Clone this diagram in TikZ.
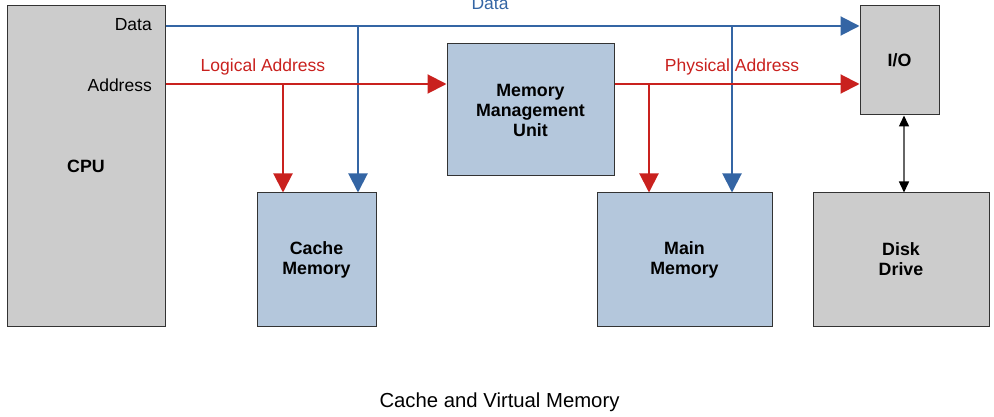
\documentclass[tikz,border=0pt]{standalone}
\usepackage{fontspec}
\setmainfont{Liberation Sans}
\usetikzlibrary{arrows.meta}
\definecolor{dblue}{HTML}{3465A4}
\definecolor{dred}{HTML}{C9211E}
\definecolor{bfill}{HTML}{B4C7DC}
\definecolor{gfill}{HTML}{CCCCCC}
\definecolor{bline}{HTML}{333333}
\begin{document}
\begin{tikzpicture}[x=1pt,y=-1pt,
  box/.style={draw=bline,line width=1pt,inner sep=0pt,align=center,
    font=\fontsize{17.8}{20}\selectfont\bfseries},
  bbox/.style={box,fill=bfill},
  gbox/.style={box,fill=gfill},
  bus/.style={line width=2pt},
  bigtip/.style={-{Triangle[length=19pt,width=19pt]}},
  lbl/.style={font=\fontsize{17.5}{20}\selectfont,inner sep=0pt}]
\useasboundingbox (0,0) rectangle (994,417);
% boxes
\node[gbox,minimum width=158pt,minimum height=320pt] (cpu) at (86,166) {CPU};
\node[bbox,minimum width=167pt,minimum height=132pt] (mmu) at (530.5,110) {\raisebox{-1.5pt}{\parbox{160pt}{\centering Memory\\Management\\Unit}}};
\node[gbox,minimum width=79pt,minimum height=109pt] (io) at (899.5,60.5) {I/O};
\node[bbox,minimum width=119pt,minimum height=133pt] (cache) at (316.5,259.5) {\raisebox{-2.5pt}{\parbox{110pt}{\centering Cache\\Memory}}};
\node[bbox,minimum width=175pt,minimum height=133pt] (main) at (684.5,259.5) {\raisebox{-2.5pt}{\parbox{160pt}{\centering Main\\Memory}}};
\node[gbox,minimum width=176pt,minimum height=133pt] (disk) at (901,259.5) {\raisebox{-1pt}{\parbox{160pt}{\centering Disk\\Drive}}};
% labels
\node[lbl,anchor=east] (ldata) at (152,25) {Data};
\node[lbl,anchor=east] (laddr) at (152,85) {Address};
\node[lbl,text=dblue] (ldatabus) at (490,4) {Data};
\node[lbl,text=dred] (llog) at (263,67) {Logical Address};
\node[lbl,text=dred] (lphys) at (732,67) {Physical Address};
\node[inner sep=0pt,font=\fontsize{20.3}{24}\selectfont] (caption) at (499.5,402) {Cache and Virtual Memory};
% junctions
\coordinate (dj1) at (358,26);
\coordinate (dj2) at (732,26);
\coordinate (aj1) at (283,84);
\coordinate (pj1) at (649,84);
% data bus
\draw[bus,dblue,bigtip] (cpu.east |- dj1) -- (io.west |- dj1);
\draw[bus,dblue,bigtip] (dj1) -- (dj1 |- cache.north);
\draw[bus,dblue,bigtip] (dj2) -- (dj2 |- main.north);
% address
\draw[bus,dred,bigtip] (cpu.east |- aj1) -- (mmu.west |- aj1);
\draw[bus,dred,bigtip] (aj1) -- (aj1 |- cache.north);
\draw[bus,dred,bigtip] (mmu.east |- pj1) -- (io.west |- pj1);
\draw[bus,dred,bigtip] (pj1) -- (pj1 |- main.north);
% io - disk
\coordinate (iox) at (904,0);
\draw[line width=1.5pt,draw=gray!80!black,{Triangle[length=11pt,width=10pt,color=black]}-{Triangle[length=11pt,width=10pt,color=black]}] (io.south -| iox) -- (disk.north -| iox);
\end{tikzpicture}
\end{document}
